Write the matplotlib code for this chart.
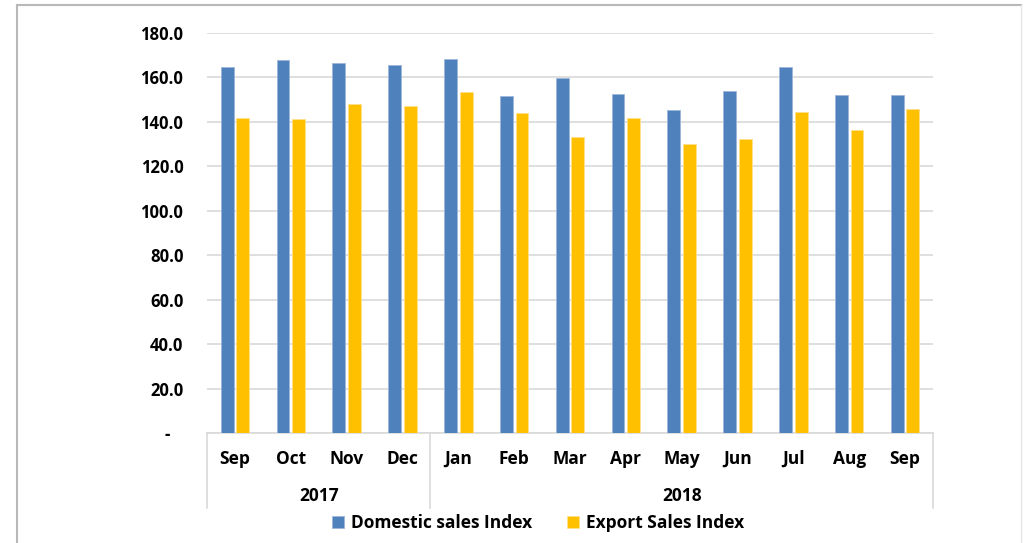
import numpy as np
import matplotlib.pyplot as plt
from matplotlib.lines import Line2D
from matplotlib.transforms import blended_transform_factory

plt.rcParams['font.family'] = ['Open Sans', 'DejaVu Sans']

months = ['Sep', 'Oct', 'Nov', 'Dec', 'Jan', 'Feb', 'Mar', 'Apr', 'May', 'Jun', 'Jul', 'Aug', 'Sep']
years = ['2017', '2018']
year_spans = [(0, 3), (4, 12)]
domestic = [164.6, 167.9, 166.5, 165.4, 168.1, 151.8, 159.6, 152.4, 145.5, 153.8, 164.7, 152.3, 152.0]
export = [141.7, 141.3, 148.0, 147.1, 153.6, 143.8, 133.2, 141.9, 130.0, 132.3, 144.6, 136.2, 145.7]

W, H = 1025, 543
fig = plt.figure(figsize=(W / 100, H / 100), dpi=100)
ax = fig.add_axes([207 / W, 1 - 433 / H, (933 - 207) / W, (433 - 33) / H])

x = np.arange(len(months))
bw = 0.23
ax.bar(x - 0.14, domestic, bw, color='#4F81BD', edgecolor='#9DB7DA', linewidth=0.6,
       label='Domestic sales Index', zorder=3)
ax.bar(x + 0.14, export, bw, color='#FFC000', edgecolor='#FFE08A', linewidth=0.6,
       label='Export Sales Index', zorder=3)

ax.set_xlim(-0.5, len(months) - 0.5)
ax.set_ylim(0, 180)
ax.set_yticks(np.arange(0, 181, 20))
# accounting style: zero shown as a dash with trailing padding
ax.set_yticklabels(['-   ' if v == 0 else f'{v:.1f}' for v in np.arange(0, 181, 20)],
                   fontsize=12, fontweight='bold')
ax.tick_params(axis='y', length=0, pad=17)
ax.set_xticks(x)
ax.set_xticklabels(months, fontsize=12.5, fontweight='bold')
ax.tick_params(axis='x', length=0, pad=12)
ax.grid(axis='y', color='#d9d9d9', linewidth=1.2, zorder=0)
for s in ['left', 'right', 'top']:
    ax.spines[s].set_visible(False)
ax.spines['bottom'].set_color('#d9d9d9')
ax.spines['bottom'].set_linewidth(1.2)

# category separators and year labels
tr = blended_transform_factory(ax.transData, ax.transAxes)
for sx in [-0.5, 3.5, len(months) - 0.5]:
    ax.add_line(Line2D([sx, sx], [0, -(508 - 433) / 400], transform=tr,
                       color='#d9d9d9', linewidth=1.2, clip_on=False))
for yr, (a, b) in zip(years, year_spans):
    ax.text((a + b) / 2, -(496 - 433) / 400, yr, transform=tr, ha='center', va='center',
            fontsize=12.5, fontweight='bold')

fig.legend(loc='center', bbox_to_anchor=(538 / W, 1 - 523 / H), ncol=2, frameon=False,
           prop={'size': 12.5, 'weight': 'bold'}, handlelength=0.7, handleheight=0.7,
           handletextpad=0.4, columnspacing=2.0)

# frame around picture
fig.add_artist(Line2D([17 / W, 17 / W], [0, 1 - 5 / H], color='#b8b8b8', linewidth=1.5))
fig.add_artist(Line2D([17 / W, 1021 / W], [1 - 5 / H, 1 - 5 / H], color='#b8b8b8', linewidth=1.5))
fig.add_artist(Line2D([1021 / W, 1021 / W], [0, 1 - 5 / H], color='#e6e6e6', linewidth=1))

fig.savefig('out.png', dpi=100)
